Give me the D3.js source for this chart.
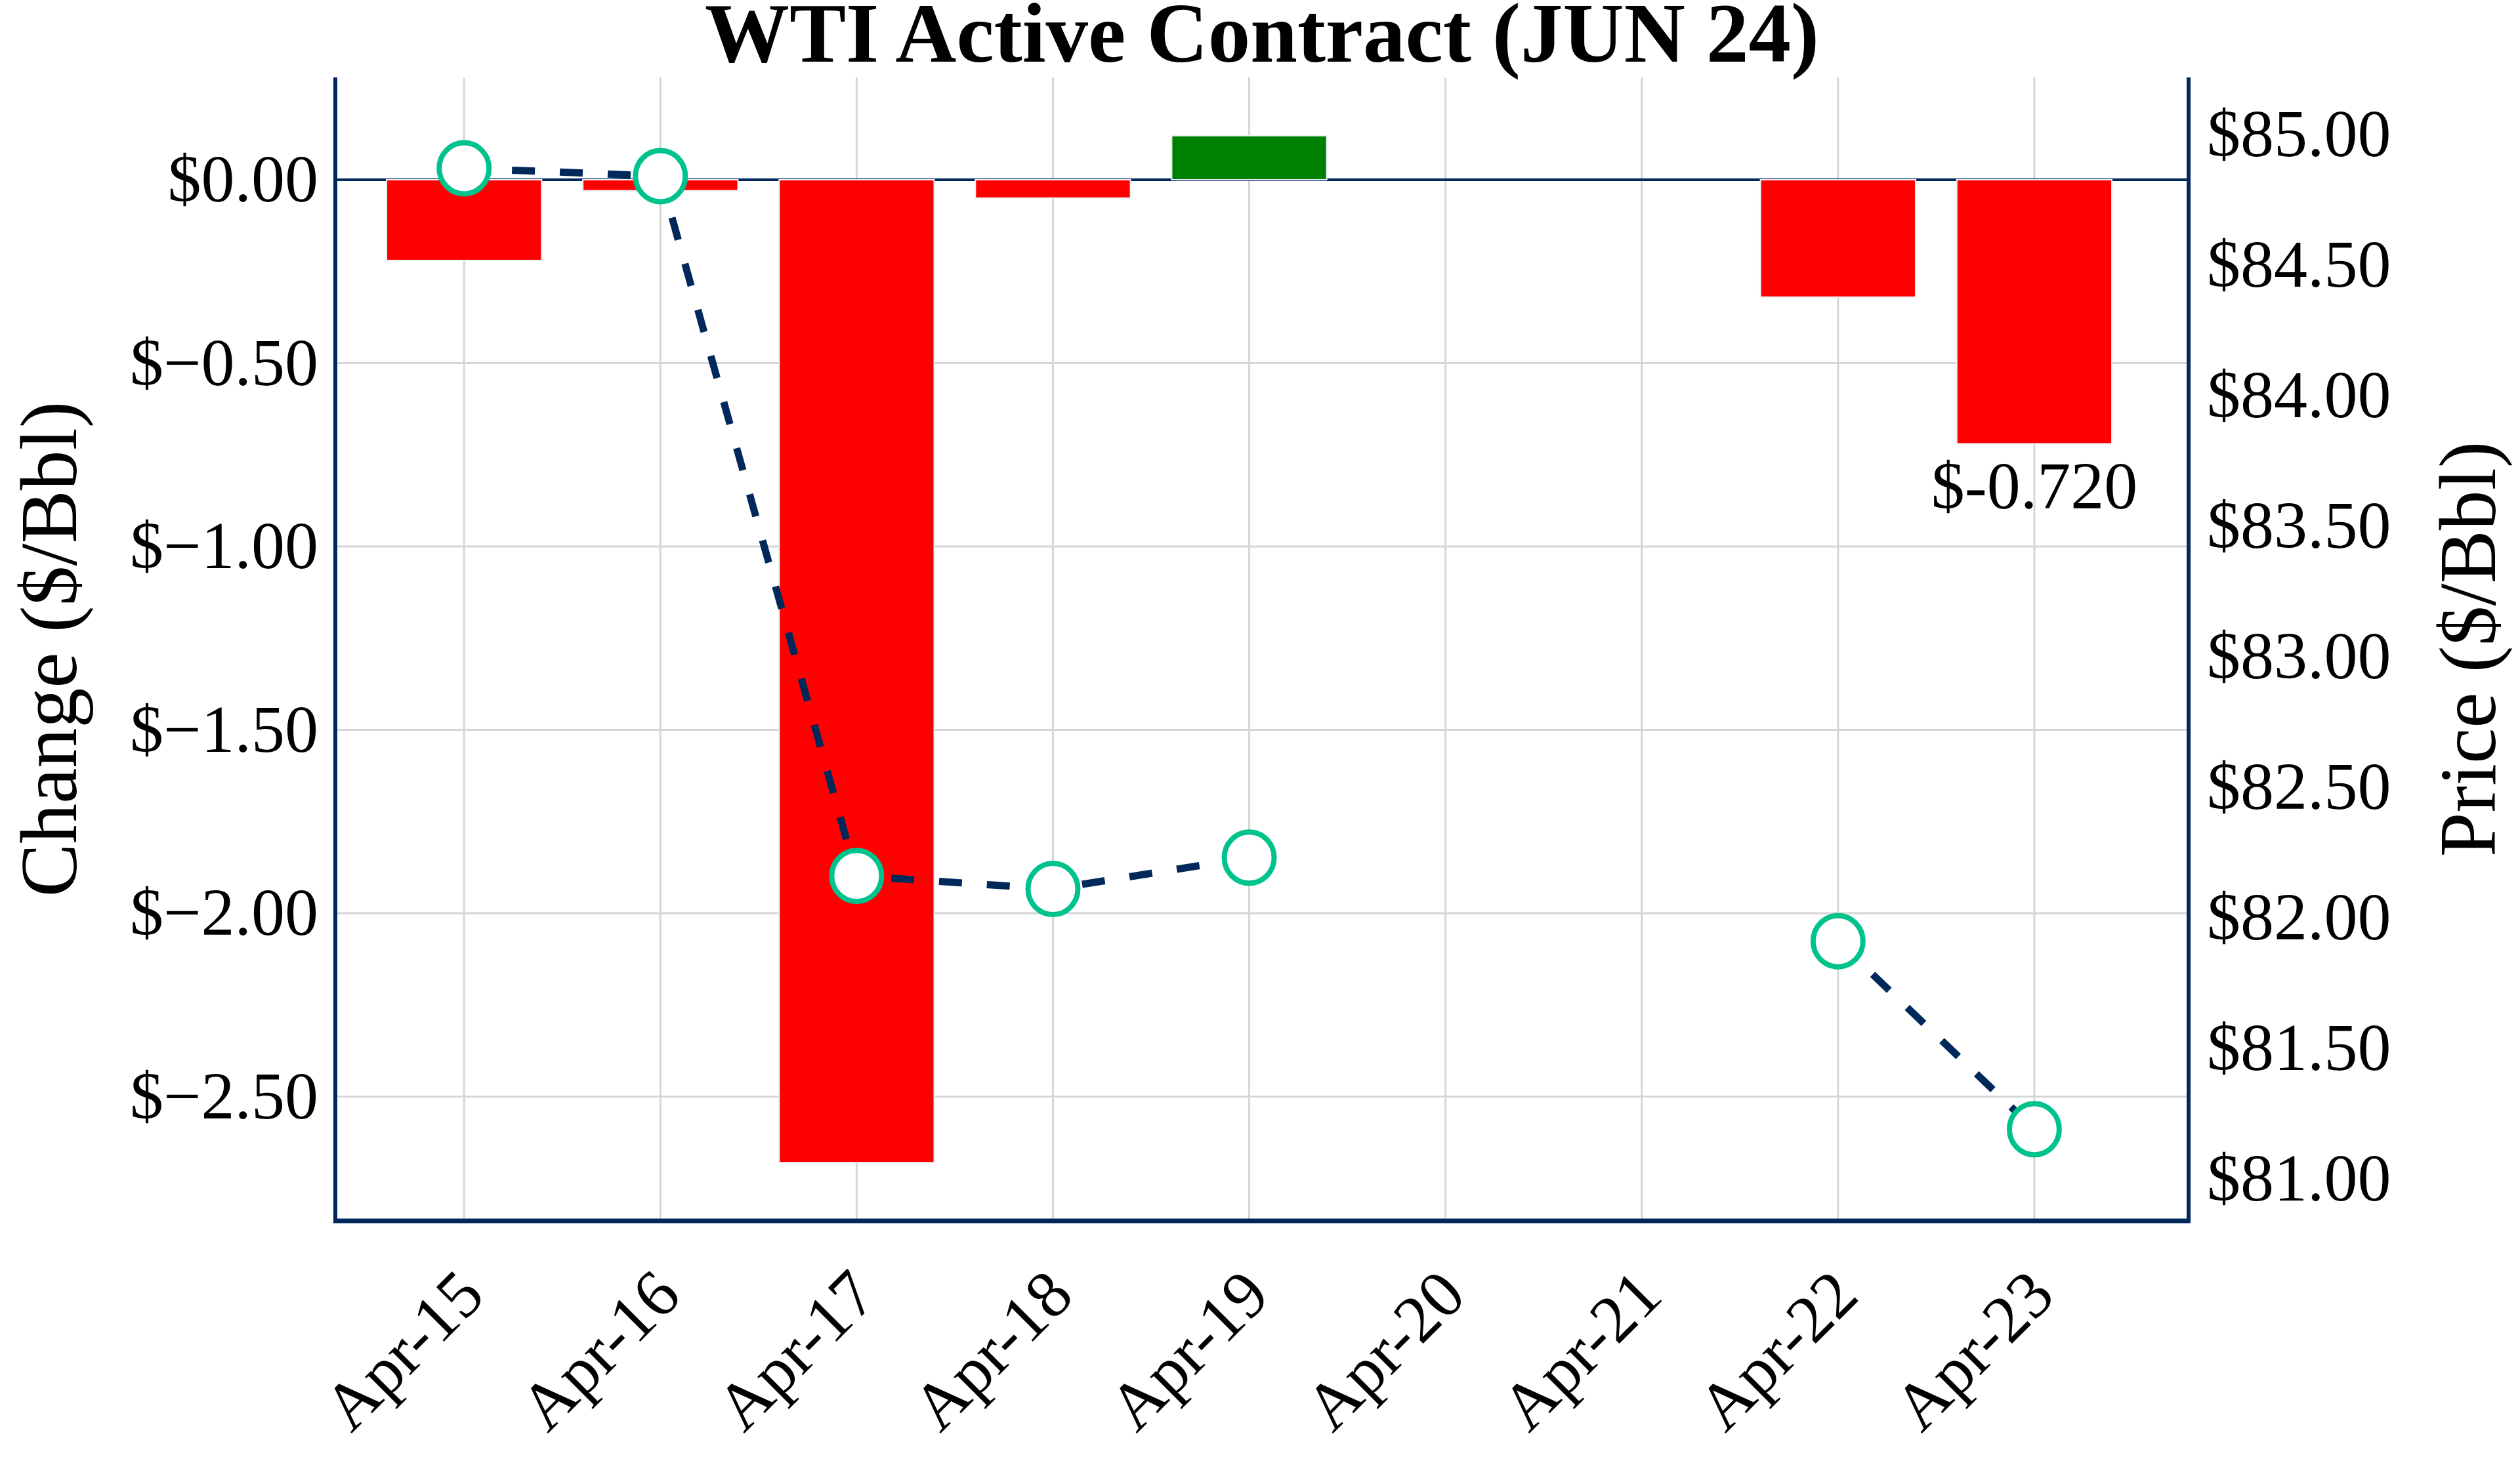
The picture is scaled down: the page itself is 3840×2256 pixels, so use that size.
<!DOCTYPE html>
<html>
<head>
<meta charset="utf-8">
<script src="https://cdn.jsdelivr.net/npm/d3@7"></script>
<style>
  body { margin: 0; background: #ffffff; }
  svg { display: block; font-family: 'Liberation Serif', 'Times New Roman', serif; }
</style>
</head>
<body>
<svg id="chart" width="3840" height="2256"></svg>
<script>

// 0. data
const categories = ['Apr-15', 'Apr-16', 'Apr-17', 'Apr-18', 'Apr-19', 'Apr-20', 'Apr-21', 'Apr-22', 'Apr-23'];
const change_values = [-0.22, -0.03, -2.68, -0.05, 0.12, null, null, -0.32, -0.72];
const price_values = [84.87, 84.84, 82.16, 82.11, 82.23, null, null, 81.91, 81.19];
const change_ticks = [0, -0.5, -1, -1.5, -2, -2.5];
const price_ticks = [81, 81.5, 82, 82.5, 83, 83.5, 84, 84.5, 85];
const title_text = 'WTI Active Contract (JUN 24)';
const left_title = 'Change ($/Bbl)';
const right_title = 'Price ($/Bbl)';
const note_index = 8;
const note_text = '$-0.720';

// 1. sizes
const W = 3840, H = 2256;
const margin = {top: 118, right: 505, bottom: 395, left: 511};
const width = W - margin.left - margin.right;
const height = H - margin.top - margin.bottom;

const navy = '#00285a';
const grid_col = '#d6d6d6';
const tick_size = 102;

const svg = d3.select('#chart');
const g = svg.append('g')
  .attr('transform', `translate(${margin.left}, ${margin.top})`);

// 2. scales
const x_scale = d3.scaleLinear()
  .domain([-0.656, categories.length - 1 + 0.786])
  .range([0, width]);

const y_change = d3.scaleLinear()
  .domain([-2.839, 0.279])
  .range([height, 0]);

const y_price = d3.scaleLinear()
  .domain([80.839, 85.218])
  .range([height, 0]);

const bar_half = 0.395;

// 3. grid
g.append('g').attr('class', 'grid-x')
  .selectAll('line')
  .data(categories)
  .join('line')
  .attr('x1', (d, i) => x_scale(i))
  .attr('x2', (d, i) => x_scale(i))
  .attr('y1', 0)
  .attr('y2', height)
  .attr('stroke', grid_col)
  .attr('stroke-width', 3);

g.append('g').attr('class', 'grid-y')
  .selectAll('line')
  .data(change_ticks.filter((d) => d !== 0))
  .join('line')
  .attr('x1', 0)
  .attr('x2', width)
  .attr('y1', (d) => y_change(d))
  .attr('y2', (d) => y_change(d))
  .attr('stroke', grid_col)
  .attr('stroke-width', 3);

// zero line
g.append('line')
  .attr('x1', 0).attr('x2', width)
  .attr('y1', y_change(0)).attr('y2', y_change(0))
  .attr('stroke', navy)
  .attr('stroke-width', 4);

// 4. bars
const bar_data = change_values
  .map((v, i) => ({i: i, v: v}))
  .filter((d) => d.v !== null);

g.append('g').attr('class', 'bars')
  .selectAll('rect')
  .data(bar_data)
  .join('rect')
  .attr('x', (d) => x_scale(d.i - bar_half))
  .attr('width', (d) => x_scale(d.i + bar_half) - x_scale(d.i - bar_half))
  .attr('y', (d) => y_change(Math.max(0, d.v)))
  .attr('height', (d) => Math.abs(y_change(d.v) - y_change(0)))
  .attr('fill', (d) => d.v >= 0 ? '#008000' : '#ff0000')
  .attr('stroke', '#eef0f8')
  .attr('stroke-width', 2);

// 5. price line + markers
const price_data = price_values.map((v, i) => ({i: i, v: v}));

const line_gen = d3.line()
  .defined((d) => d.v !== null)
  .x((d) => x_scale(d.i))
  .y((d) => y_price(d.v));

g.append('path')
  .datum(price_data)
  .attr('d', line_gen)
  .attr('fill', 'none')
  .attr('stroke', navy)
  .attr('stroke-width', 11)
  .attr('stroke-dasharray', '35,38');

g.append('g').attr('class', 'markers')
  .selectAll('ellipse')
  .data(price_data.filter((d) => d.v !== null))
  .join('ellipse')
  .attr('cx', (d) => x_scale(d.i))
  .attr('cy', (d) => y_price(d.v))
  .attr('rx', 38)
  .attr('ry', 39)
  .attr('fill', '#ffffff')
  .attr('stroke', '#00c28c')
  .attr('stroke-width', 8);

// annotation under last bar
g.append('text')
  .attr('x', x_scale(note_index))
  .attr('y', y_change(change_values[note_index]) + 63)
  .attr('dy', '0.35em')
  .attr('text-anchor', 'middle')
  .attr('font-size', tick_size)
  .attr('fill', '#000')
  .text(note_text);

// 6. axes
const fmt = d3.format('.2f');

const axis_left = g.append('g')
  .call(d3.axisLeft(y_change).tickValues(change_ticks).tickSize(0).tickPadding(26)
    .tickFormat((d) => '$' + fmt(d)));
axis_left.select('.domain').remove();

const axis_right = g.append('g')
  .attr('transform', `translate(${width}, 0)`)
  .call(d3.axisRight(y_price).tickValues(price_ticks).tickSize(0).tickPadding(28)
    .tickFormat((d) => '$' + fmt(d)));
axis_right.select('.domain').remove();

[axis_left, axis_right].forEach((a) => {
  a.selectAll('text')
    .attr('font-family', "'Liberation Serif', 'Times New Roman', serif")
    .attr('font-size', tick_size)
    .attr('fill', '#000');
});

// x labels, rotated
g.append('g').attr('class', 'x-labels')
  .selectAll('text')
  .data(categories)
  .join('text')
  .attr('transform', (d, i) => `translate(${x_scale(i) + 35}, ${height + 118}) rotate(-45)`)
  .attr('text-anchor', 'end')
  .attr('font-size', tick_size)
  .attr('fill', '#000')
  .text((d) => d);

// axis lines
g.append('line')
  .attr('x1', 0).attr('x2', 0).attr('y1', 0).attr('y2', height + 3)
  .attr('stroke', navy).attr('stroke-width', 6);
g.append('line')
  .attr('x1', width).attr('x2', width).attr('y1', 0).attr('y2', height + 3)
  .attr('stroke', navy).attr('stroke-width', 6);
g.append('line')
  .attr('x1', -3).attr('x2', width + 3).attr('y1', height).attr('y2', height)
  .attr('stroke', navy).attr('stroke-width', 7);

// 7. titles
svg.append('text')
  .attr('x', margin.left + width / 2)
  .attr('y', 94)
  .attr('text-anchor', 'middle')
  .attr('font-size', 129)
  .attr('font-weight', 'bold')
  .attr('fill', '#000')
  .text(title_text);

svg.append('text')
  .attr('transform', `translate(73, ${margin.top + height / 2}) rotate(-90)`)
  .attr('dy', '0.35em')
  .attr('text-anchor', 'middle')
  .attr('font-size', 122)
  .attr('fill', '#000')
  .text(left_title);

svg.append('text')
  .attr('transform', `translate(3759, ${margin.top + height / 2}) rotate(-90)`)
  .attr('dy', '0.35em')
  .attr('text-anchor', 'middle')
  .attr('font-size', 122)
  .attr('fill', '#000')
  .text(right_title);

</script>
</body>
</html>
